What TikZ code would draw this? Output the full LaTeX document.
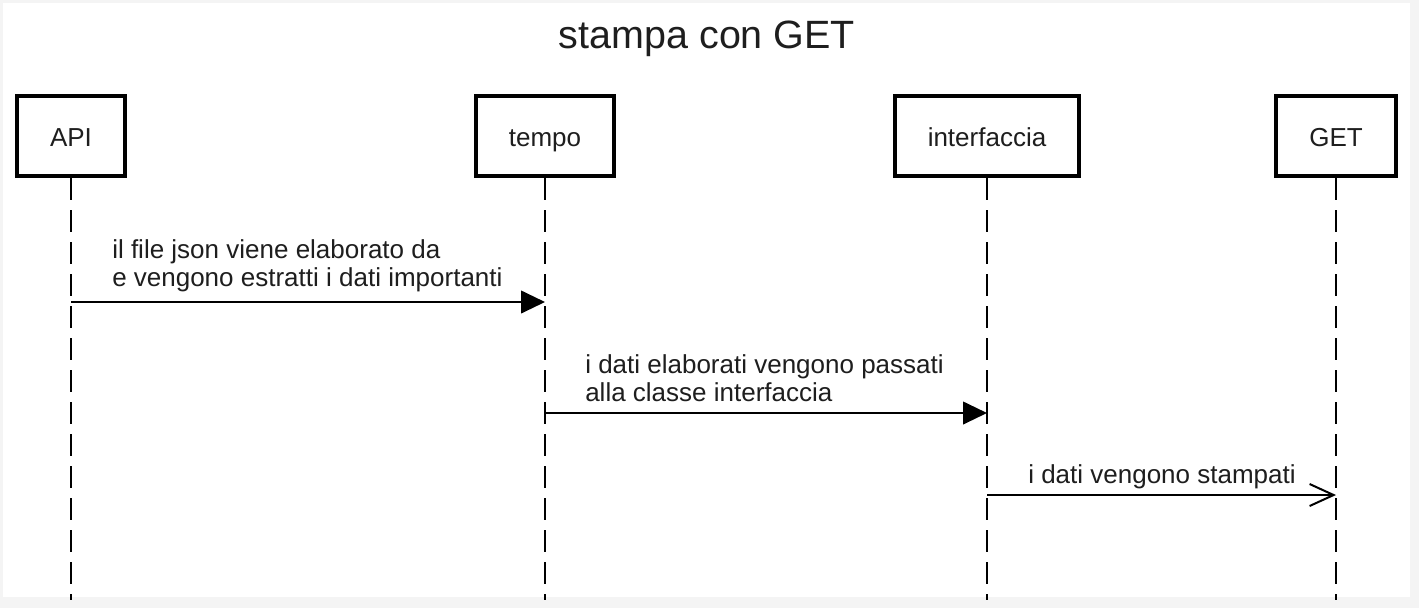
\documentclass[tikz,border=0pt]{standalone}
\usepackage{fontspec}
\setmainfont{Liberation Sans}
\usetikzlibrary{arrows.meta}
\definecolor{pagegray}{HTML}{F4F4F4}
\definecolor{txt}{HTML}{1E1E1E}
\tikzset{
  actor/.style={draw=black, line width=3pt, fill=white, inner sep=0pt, text=txt,
    font=\fontsize{19.5pt}{21.3pt}\selectfont, text height=15pt, text depth=0pt},
  lifeline/.style={draw=black, line width=1.5pt, dash pattern=on 16.5pt off 7.5pt},
  msgfilled/.style={draw=black, line width=1.5pt, -{Triangle[length=18pt,width=17pt]}},
  msgopen/.style={draw=black, line width=1.5pt, -{Straight Barb[length=18pt,width=16.5pt]}},
  msglabel/.style={inner sep=0pt, align=left, text=txt, font=\fontsize{19.5pt}{21.3pt}\selectfont},
}
\begin{document}
\begin{tikzpicture}[x=0.75pt, y=-0.75pt]
  % page
  \fill[pagegray] (0,0) rectangle (1419,608);
  \fill[white] (3,3) rectangle (1410,597);
  \useasboundingbox (0,0) rectangle (1419,608);

  % title
  \node[inner sep=0pt, anchor=base, text=txt, font=\fontsize{29.6pt}{34pt}\selectfont] (title) at (707,48) {stampa con GET};

  % participants
  \node[actor, minimum width=81pt, minimum height=60pt] (api) at (71,136) {API};
  \node[actor, minimum width=103.5pt, minimum height=60pt] (tempo) at (545,136) {tempo};
  \node[actor, minimum width=138pt, minimum height=60pt] (interf) at (987,136) {interfaccia};
  \node[actor, minimum width=90pt, minimum height=60pt] (get) at (1336,136) {GET};

  % lifeline ends
  \coordinate (apiE) at (71,600);
  \coordinate (tempoE) at (545,600);
  \coordinate (interfE) at (987,600);
  \coordinate (getE) at (1336,600);

  \draw[lifeline] (api.south) -- (apiE);
  \draw[lifeline] (tempo.south) -- (tempoE);
  \draw[lifeline] (interf.south) -- (interfE);
  \draw[lifeline] (get.south) -- (getE);

  % message points
  \coordinate (m1s) at (71,302);
  \coordinate (m1e) at (545,302);
  \coordinate (m2s) at (545,413);
  \coordinate (m2e) at (987,413);
  \coordinate (m3s) at (987,495);
  \coordinate (m3e) at (1336,495);

  \draw[msgfilled] (m1s) -- (m1e);
  \draw[msgfilled] (m2s) -- (m2e);
  \draw[msgopen] (m3s) -- (m3e);

  % labels (base = baseline of the last line)
  \node[msglabel, anchor=base west] (l1) at (112,286.7) {il file json viene elaborato da\\e vengono estratti i dati importanti};
  \node[msglabel, anchor=base west] (l2) at (585,401.7) {i dati elaborati vengono passati\\alla classe interfaccia};
  \node[msglabel, anchor=base west] (l3) at (1028,483.3) {i dati vengono stampati};
\end{tikzpicture}
\end{document}
